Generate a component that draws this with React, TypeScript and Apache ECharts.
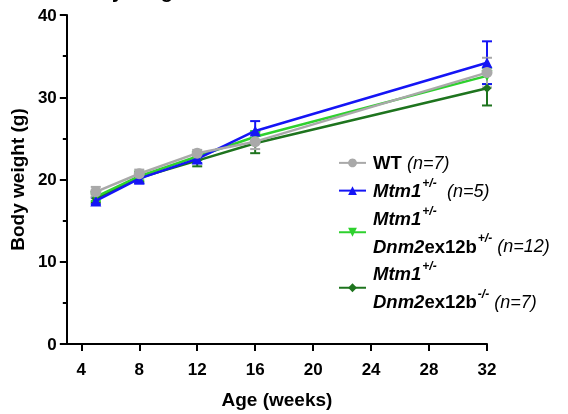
import React, { useEffect, useRef } from "react";
import * as echarts from "echarts";

const weeks = [5, 8, 12, 16, 32];
const xTickValues = [4, 8, 12, 16, 20, 24, 28, 32];

const wtMean = [18.5, 20.7, 23.2, 24.6, 33.0];
const wtErr = [0.6, 0.5, 0.4, 0.9, 1.8];
const mtmMean = [17.4, 20.1, 22.5, 25.9, 34.2];
const mtmErr = [0.4, 0.6, 0.5, 1.2, 2.6];
const hetMean = [17.9, 20.4, 22.8, 25.2, 32.6];
const hetErr = [0.5, 0.5, 0.4, 0.7, 1.0];
const homMean = [17.7, 20.2, 22.3, 24.4, 31.1];
const homErr = [0.5, 0.5, 0.7, 1.2, 2.1];

const seriesNames = ["WT", "Mtm1+/-", "Mtm1+/- Dnm2ex12b+/-", "Mtm1+/- Dnm2ex12b-/-"];
const legendLabels: Record<string, string> = {
  "WT": "{b|WT} {ni|(n=7)}",
  "Mtm1+/-": "{bi|Mtm1}{sup|+/-}  {ni|(n=5)}",
  "Mtm1+/- Dnm2ex12b+/-": "{bi|Mtm1}{sup|+/-}\n{bi|Dnm2}{b|ex12b}{sup|+/-} {ni|(n=12)}",
  "Mtm1+/- Dnm2ex12b-/-": "{bi|Mtm1}{sup|+/-}\n{bi|Dnm2}{b|ex12b}{sup|-/-} {ni|(n=7)}",
};

const FONT = "'Liberation Sans', Arial, sans-serif";
const LH = 27.75;

function errData(mean: number[], err: number[]) {
  return weeks.map((w, i) => [w, mean[i] - err[i], mean[i] + err[i]]);
}

function errSeries(mean: number[], err: number[], color: string, z: number) {
  return {
    type: "custom",
    z,
    silent: true,
    encode: { x: 0, y: [1, 2] },
    data: errData(mean, err),
    renderItem: (params: any, api: any) => {
      const x = api.value(0);
      const lo = api.coord([x, api.value(1)]);
      const hi = api.coord([x, api.value(2)]);
      const cap = 5;
      const style = { stroke: color, lineWidth: 2 };
      return {
        type: "group",
        children: [
          { type: "line", shape: { x1: lo[0], y1: lo[1], x2: hi[0], y2: hi[1] }, style },
          { type: "line", shape: { x1: hi[0] - cap, y1: hi[1], x2: hi[0] + cap, y2: hi[1] }, style },
          { type: "line", shape: { x1: lo[0] - cap, y1: lo[1], x2: lo[0] + cap, y2: lo[1] }, style },
        ],
      };
    },
  };
}

function lineSeries(name: string, mean: number[], color: string, symbol: string, size: number, z: number, rotate = 0) {
  return {
    name,
    type: "line",
    z,
    data: weeks.map((w, i) => [w, mean[i]]),
    symbol,
    symbolSize: size,
    symbolRotate: rotate,
    showAllSymbol: true,
    lineStyle: { color, width: 2.5 },
    itemStyle: { color },
  };
}

export default function App() {
  const ref = useRef<HTMLDivElement>(null);
  useEffect(() => {
    if (!ref.current) return;
    const chart = echarts.init(ref.current, null, { renderer: "svg" });
    const GRAY = "#a9a9a9";
    const BLUE = "#1515f5";
    const LGREEN = "#2ed12e";
    const DGREEN = "#1e741e";
    chart.setOption({
      animation: false,
      textStyle: { fontFamily: FONT },
      graphic: [
        {
          type: "text",
          left: 73,
          top: -19,
          style: { text: "Body weight", font: `bold 20px ${FONT}`, fill: "#000" },
        },
      ],
      grid: { left: 65, right: 81, top: 15, bottom: 61, containLabel: false },
      legend: {
        orient: "vertical",
        left: 333,
        top: 144,
        itemGap: 0,
        itemWidth: 27,
        itemHeight: 11,
        data: seriesNames,
        formatter: (n: string) => legendLabels[n],
        textStyle: {
          fontFamily: FONT,
          fontSize: 18.5,
          lineHeight: LH,
          color: "#000",
          padding: [0, 0, 0, 2],
          rich: {
            b: { fontFamily: FONT, fontSize: 18.5, fontWeight: "bold", color: "#000", lineHeight: LH },
            bi: { fontFamily: FONT, fontSize: 18.5, fontWeight: "bold", fontStyle: "italic", color: "#000", lineHeight: LH },
            ni: { fontFamily: FONT, fontSize: 18, fontStyle: "italic", color: "#000", lineHeight: LH },
            sup: { fontFamily: FONT, fontSize: 12, fontWeight: "bold", fontStyle: "italic", color: "#000", verticalAlign: "top", lineHeight: LH, padding: [0, 0, 10, 1] },
          },
        },
      },
      xAxis: {
        type: "value",
        min: 3,
        max: 32,
        name: "Age (weeks)",
        nameLocation: "middle",
        nameGap: 46,
        nameTextStyle: { fontFamily: FONT, fontSize: 19, fontWeight: "bold", color: "#000" },
        axisLine: { show: true, onZero: false, lineStyle: { color: "#000", width: 2 } },
        axisTick: { show: true, length: 7, customValues: xTickValues, lineStyle: { color: "#000", width: 2 } },
        axisLabel: { customValues: xTickValues, fontFamily: FONT, fontSize: 17, fontWeight: "bold", color: "#000", margin: 17 },
        splitLine: { show: false },
      },
      yAxis: {
        type: "value",
        min: 0,
        max: 40,
        interval: 10,
        name: "Body weight (g)",
        nameLocation: "middle",
        nameGap: 37,
        nameTextStyle: { fontFamily: FONT, fontSize: 19, fontWeight: "bold", color: "#000" },
        axisLine: { show: true, lineStyle: { color: "#000", width: 2 } },
        axisTick: { show: true, length: 7, lineStyle: { color: "#000", width: 2 } },
        minorTick: { show: true, splitNumber: 2, length: 4, lineStyle: { color: "#000", width: 2 } },
        axisLabel: { fontFamily: FONT, fontSize: 17, fontWeight: "bold", color: "#000", margin: 10 },
        splitLine: { show: false },
      },
      series: [
        errSeries(homMean, homErr, DGREEN, 1),
        errSeries(hetMean, hetErr, LGREEN, 1),
        errSeries(mtmMean, mtmErr, BLUE, 1),
        errSeries(wtMean, wtErr, GRAY, 1),
        lineSeries(seriesNames[3], homMean, DGREEN, "diamond", 9, 2),
        lineSeries(seriesNames[2], hetMean, LGREEN, "triangle", 11, 3, 180),
        lineSeries(seriesNames[1], mtmMean, BLUE, "triangle", 11, 4),
        lineSeries(seriesNames[0], wtMean, GRAY, "circle", 11, 5),
      ],
    });
    return () => chart.dispose();
  }, []);
  return (
    <div
      ref={ref}
      style={{ position: "fixed", left: 0, top: 0, width: 568, height: 414 }}
    />
  );
}
